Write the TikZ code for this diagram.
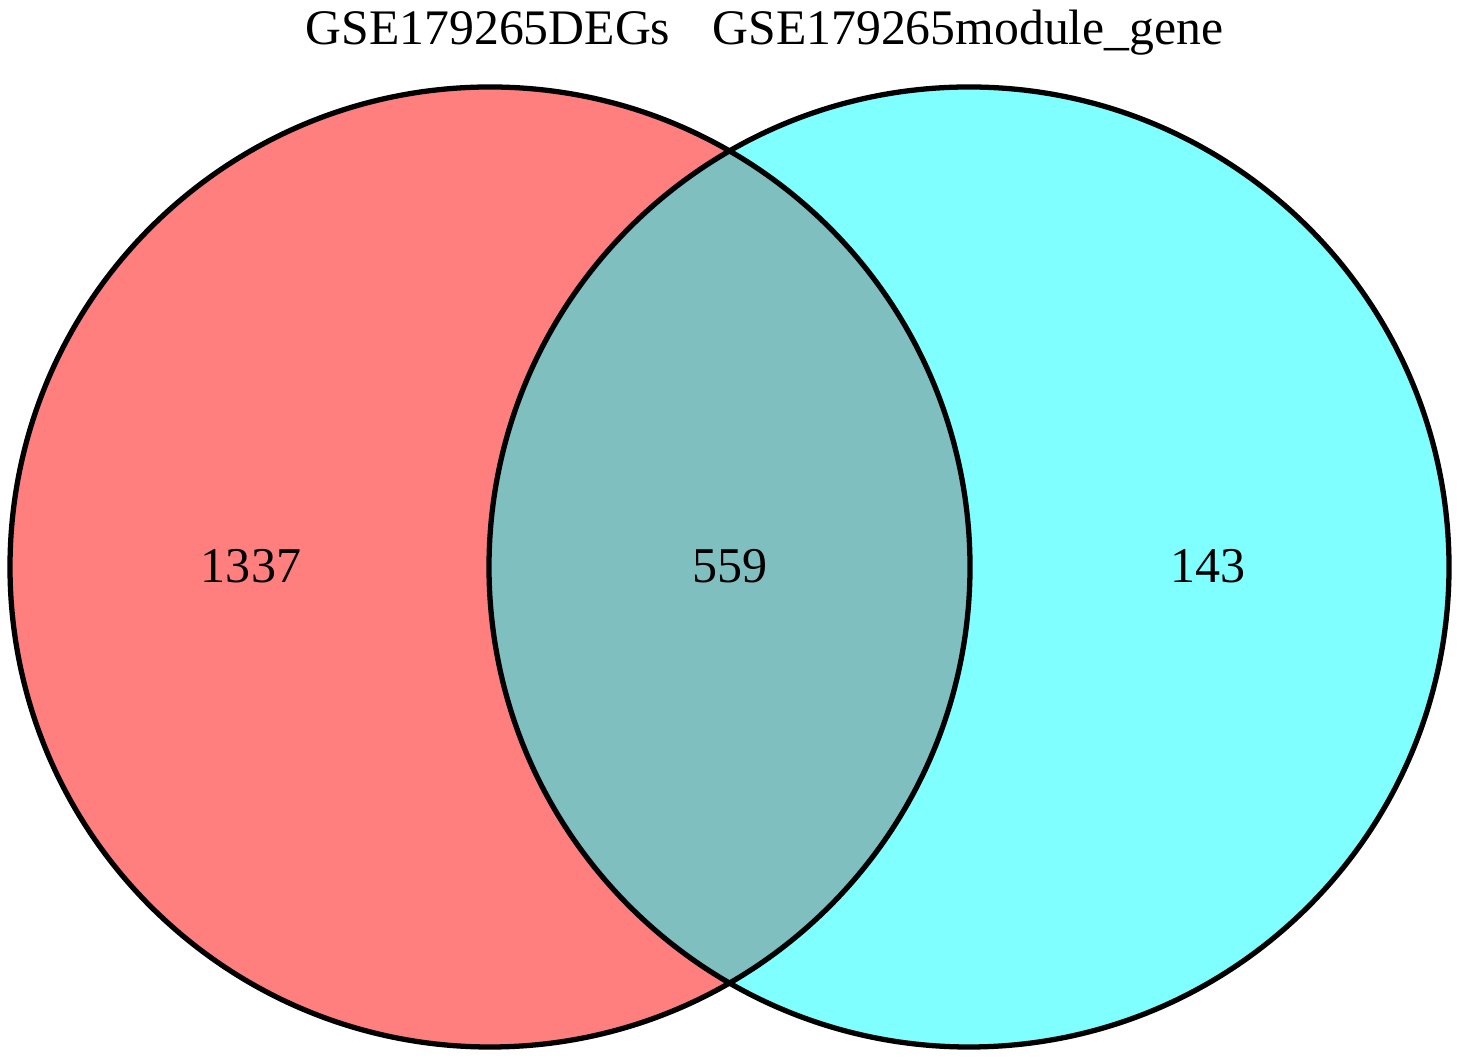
\documentclass[tikz,border=0pt]{standalone}
\usepackage{fontspec}
\setmainfont{Liberation Serif}
\definecolor{setred}{RGB}{255,0,0}
\definecolor{setcyan}{RGB}{0,255,255}

\begin{document}
\begin{tikzpicture}[x=0.02cm,y=0.02cm,line cap=round,line join=round,
  setfill/.style={fill opacity=0.5},
  setline/.style={line width=3pt},
  setlabel/.style={font=\fontsize{28.3}{32}\selectfont,inner sep=0pt,anchor=base},
  countlabel/.style={font=\fontsize{28.5}{32}\selectfont,inner sep=0pt,anchor=base}]
\useasboundingbox (0,0) rectangle (1462,1060);
\coordinate (L) at (490,493);
\coordinate (R) at (969,493);
\fill[setred,setfill] (L) circle [radius=480];
\fill[setcyan,setfill] (R) circle [radius=480];
\draw[setline] (L) circle [radius=480];
\draw[setline] (R) circle [radius=480];
\node[setlabel] (degs) at (488,1015) {GSE179265DEGs};
\node[setlabel] (module) at (968,1015) {GSE179265module\_gene};
\node[countlabel] (onlyL) at (251,477) {1337};
\node[countlabel] (both) at (730,477) {559};
\node[countlabel] (onlyR) at (1208,477) {143};
\end{tikzpicture}
\end{document}
